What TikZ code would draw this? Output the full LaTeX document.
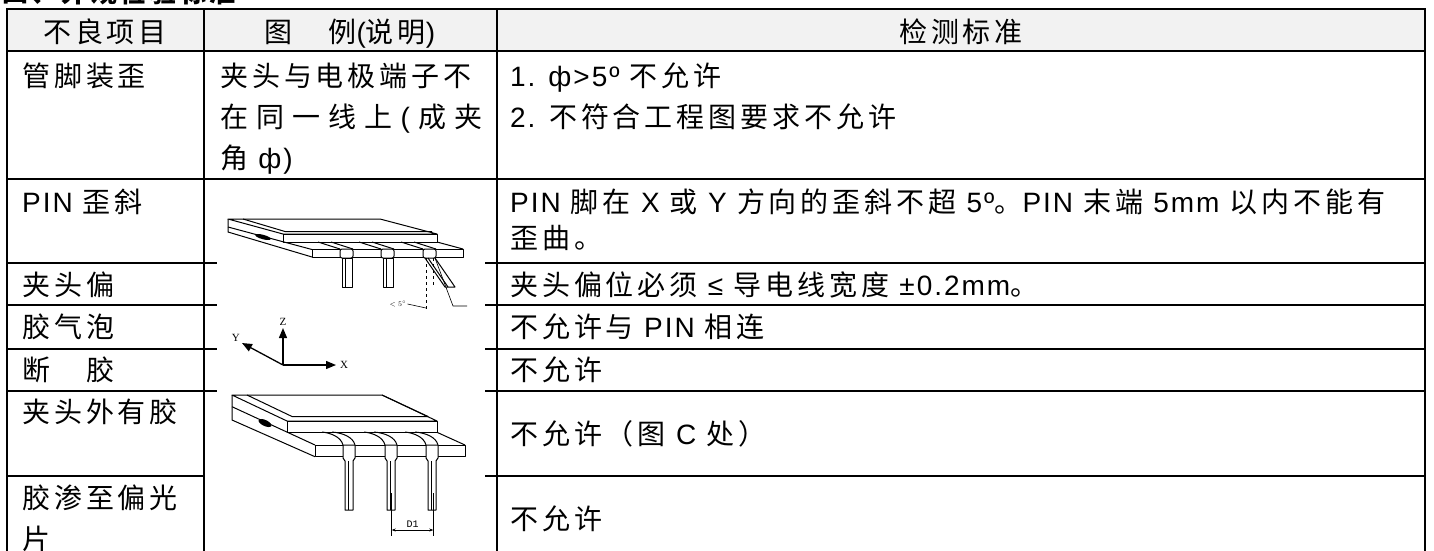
\documentclass[tikz,border=0pt]{standalone}
\usepackage{fontspec}
\setmainfont{Noto Sans CJK SC}[LetterSpace=14]
\newfontfamily\latinfont{Liberation Sans}[LetterSpace=7]
\newfontfamily\serifdraw{Liberation Serif}
\newfontfamily\monodraw{Liberation Mono}
\newcommand\ltn[1]{{\latinfont #1}}
\newcommand\cellfont{\fontsize{28}{39}\selectfont}
\usetikzlibrary{arrows.meta,positioning}
\definecolor{headgray}{HTML}{F2F2F2}
\tikzset{
  cell/.style      = {anchor=base west, inner sep=0pt, font=\cellfont},
  headtext/.style  = {anchor=base, inner sep=0pt, font=\cellfont},
  tablerule/.style = {line width=1.8pt},
  fig/.style       = {line width=1pt, line join=round},
  dimline/.style   = {line width=0.6pt},
  axis/.style      = {-{Triangle[length=10pt,width=8pt]}, line width=1.3pt},
  axlabel/.style   = {font=\serifdraw\fontsize{11}{11}\selectfont, inner sep=1pt},
  pinhead/.style   = {fig, fill=white}
}

\begin{document}
\begin{tikzpicture}[x=1pt, y=-1pt]
  \useasboundingbox (0,0) rectangle (1434,550);
  \fill[white] (0,0) rectangle (1434,550);
  % title, cut off by the page
  \node[anchor=base west, inner sep=0pt, font=\bfseries\fontsize{26}{26}\selectfont] (title) at (2,2) {四、外观检验标准};
  % table
  \fill[headgray] (7,9) rectangle (1425,51);
  \draw[tablerule] (7,552) -- (7,9) -- (1425,9) -- (1425,552);
  \draw[tablerule] (204,9) -- (204,552) (497,9) -- (497,552);
  \draw[tablerule] (7,51) -- (1425,51) (7,179) -- (1425,179);
  \foreach \ry in {263,305,349,391}
    \draw[tablerule] (7,\ry) -- (217,\ry) (485,\ry) -- (1425,\ry);
  \draw[tablerule] (7,476) -- (204,476) (485,476) -- (1425,476);

  % header
  \node[headtext] (hItem) at (105,42) {不良项目};
  \node[headtext] (hFig) at (350,42) {图　例\ltn{(}说明\ltn{)}};
  \node[headtext] (hStd) at (961,42) {检测标准};

  % rows
  \node[cell] (r1a) at (22,86) {管脚装歪};
  \node[cell] (r1b1) at (220,86) {夹头与电极端子不};
  \node[cell] (r1b2) at (220,127) {\makebox[262pt][s]{在\hfill 同\hfill 一\hfill 线\hfill 上\hfill\ltn{(}\hfill 成\hfill 夹}};
  \node[cell] (r1b3) at (220,168) {角 \ltn{ф)}};
  \node[cell] (r1c1) at (510,86) {\ltn{1. ф>5º} 不允许};
  \node[cell] (r1c2) at (510,127) {\ltn{2.} 不符合工程图要求不允许};

  \node[cell] (r2a) at (22,212) {\ltn{PIN} 歪斜};
  \node[cell] (r2c1) at (510,212) {\ltn{PIN} 脚在 \ltn{X} 或 \ltn{Y} 方向的歪斜不超 \ltn{5º}。\ltn{PIN} 末端 \ltn{5mm} 以内不能有};
  \node[cell] (r2c2) at (510,248) {歪曲。};

  \node[cell] (r3a) at (22,295) {夹头偏};
  \node[cell] (r3c) at (510,295) {夹头偏位必须 \ltn{≤} 导电线宽度 \ltn{±0.2mm}。};

  \node[cell] (r4a) at (22,337) {胶气泡};
  \node[cell] (r4c) at (510,337) {不允许与 \ltn{PIN} 相连};

  \node[cell] (r5a) at (22,380) {断　胶};
  \node[cell] (r5c) at (510,380) {不允许};

  \node[cell] (r6a) at (22,422) {夹头外有胶};
  \node[cell] (r6c) at (510,444) {不允许（图 \ltn{C} 处）};

  \node[cell] (r7a1) at (22,508) {胶渗至偏光};
  \node[cell] (r7a2) at (22,549) {片};
  \node[cell] (r7c) at (510,529) {不允许};

  % figure 1: tilted pin
  \draw[fig] (228,219) -- (380,219) -- (437,234) -- (283,234) -- cycle;
  \draw[fig] (243,219) -- (285,231.5) -- (432,231.5);
  \draw[fig] (283,234) rectangle (437,242);
  \draw[fig] (228,219) -- (228,232) -- (312,257);
  \draw[fig] (228,227) -- (312,249.5);
  \draw[fig] (312,249) rectangle (463,257);
  \draw[fig] (437,242) -- (463,249);
  \fill[rotate around={-15:(263,237)}] (263,237) ellipse (8pt and 2.2pt);
  \foreach \px in {347,388,430}{
    \draw[fig] (\px-29,242) -- (\px-7,249) (\px-16,242) -- (\px+6,249);
    \filldraw[pinhead, rounded corners=2pt] (\px-7,249) -- (\px-7,258) -- (\px+6,258) -- (\px+6,249) -- cycle;
  }
  \foreach \px in {347,388}{
    \draw[fig] (\px-5,258) rectangle (\px+5,287);
    \draw[fig] (\px-2,258) -- (\px-2,287);
  }
  \draw[fig] (425,258) -- (445,287) -- (455,287) -- (435,258);
  \draw[fig] (428,258) -- (448,287);
  \draw[fig, dashed] (426,258) -- (426,310) (433,258) -- (433,287);
  \draw[dimline] (435,258) -- (453,306) -- (467,306);
  \node[axlabel, font=\serifdraw\fontsize{7}{7}\selectfont] (angle) at (398,304) {$<5^\circ$};
  \draw[dimline] (angle.east) -- (426,308);

  % axes
  \coordinate (o) at (283,365);
  \coordinate (ax) at (336,365);
  \coordinate (ay) at (242,343);
  \coordinate (az) at (283,328);
  \draw[axis] (o) -- (ax);
  \draw[axis] (o) -- (ay);
  \draw[axis] (o) -- (az);
  \node[axlabel, right=3pt of ax] (lx) {X};
  \node[axlabel, above left=0pt and 1pt of ay] (ly) {Y};
  \node[axlabel, above=1pt of az] (lz) {Z};

  % figure 2: glue outside clamp
  \draw[fig] (232,395) -- (382,395) -- (437,421) -- (287,421) -- cycle;
  \draw[fig] (247,395) -- (292,416.5) -- (428,416.5) -- (382,395);
  \draw[fig] (287,421) rectangle (437,432.3);
  \draw[fig] (232,395) -- (232,420) -- (315,456.7);
  \draw[fig] (232,406.7) -- (315,445);
  \draw[fig] (315,445) rectangle (465,456.7);
  \draw[fig] (437,432.3) -- (465,445);
  \fill[rotate around={-25:(265,423)}] (265,423) ellipse (7pt and 3pt);
  \foreach \px in {349,391,432}{
    \draw[fig] (\px-6,445) .. controls (\px-8,437) and (\px-18,433) .. (\px-27,432);
    \draw[fig] (\px+6,445) .. controls (\px+4,437) and (\px-6,433) .. (\px-17,432);
    \filldraw[pinhead] (\px-6,445) -- (\px-6,458) -- (\px-4,461) -- (\px-4,510) -- (\px+4,510) -- (\px+4,461) -- (\px+6,458) -- (\px+6,445) -- cycle;
    \draw[fig] (\px-1,461) -- (\px-1,510);
  }
  % dimension D1
  \coordinate (d1a) at (391.7,530);
  \coordinate (d1b) at (433.3,530);
  \draw[dimline] (391.7,493) -- (391.7,536) (433.3,493) -- (433.3,536);
  \draw[dimline, {Stealth[length=4pt]}-{Stealth[length=4pt]}] (d1a) -- (d1b);
  \node[font=\monodraw\fontsize{10}{10}\selectfont, inner sep=0pt, anchor=base] (d1) at (412.5,527) {D1};
\end{tikzpicture}
\end{document}
